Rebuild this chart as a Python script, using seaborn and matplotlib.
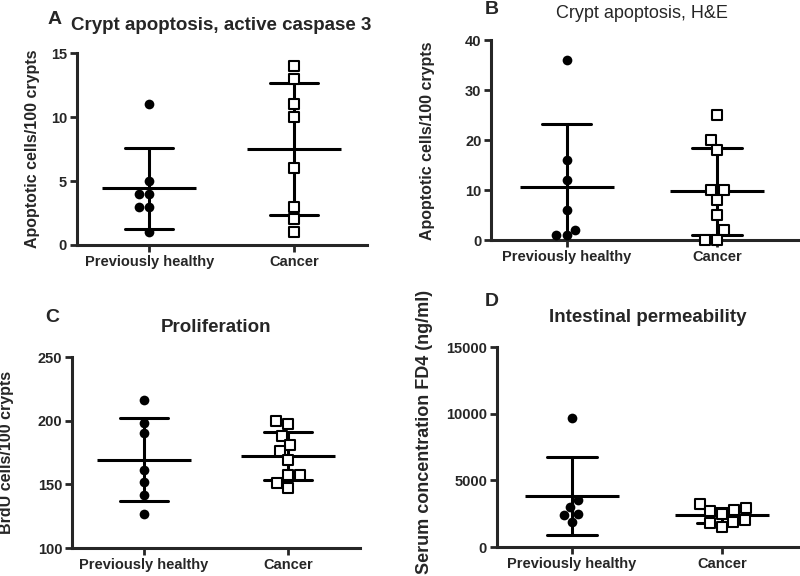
import numpy as np
import pandas as pd
import matplotlib
matplotlib.use('Agg')
import matplotlib.pyplot as plt
import seaborn as sns

# group names on the x axis
groups = ['Previously healthy', 'Cancer']

# A: crypt apoptosis, active caspase 3
casp_healthy = [11, 5, 4, 4, 3, 3, 1]
casp_cancer = [14, 13, 11, 10, 6, 3, 2, 1]

# B: crypt apoptosis, H&E
he_healthy = [36, 16, 12, 6, 2, 1, 1]
he_cancer = [25, 20, 18, 10, 10, 8, 5, 2, 0, 0]

# C: proliferation
brdu_healthy = [216, 198, 190, 161, 152, 142, 127]
brdu_cancer = [200, 197, 188, 181, 176, 169, 157, 157, 151, 147]

# D: intestinal permeability
fd4_healthy = [9700, 3500, 3000, 2500, 2400, 1900]
fd4_cancer = [3200, 2900, 2800, 2700, 2500, 2000, 1900, 1800, 1500]

sns.set_style('ticks')
plt.rcParams['font.family'] = ['Liberation Sans', 'DejaVu Sans']
plt.rcParams['font.weight'] = 'bold'


def make_df(healthy, cancer):
    return pd.DataFrame({
        'group': [groups[0]] * len(healthy) + [groups[1]] * len(cancer),
        'value': healthy + cancer,
    })


def draw_panel(ax, df, ylim, yticks, ylabel, label_xy, xlim_right=1.5, label_size=11.5):
    # mean +/- SD
    sns.pointplot(data=df, x='group', y='value', order=groups, errorbar='sd',
                  capsize=0.33, color='black', marker='_', markersize=68,
                  markeredgewidth=2.2, linestyle='none',
                  err_kws={'linewidth': 2.2}, ax=ax, zorder=2)
    # individual points
    sns.swarmplot(data=df[df['group'] == groups[0]], x='group', y='value',
                  order=groups, color='black', marker='o', size=7,
                  ax=ax, zorder=3)
    sns.swarmplot(data=df[df['group'] == groups[1]], x='group', y='value',
                  order=groups, color='white', edgecolor='black',
                  linewidth=1.5, marker='s', size=7, ax=ax, zorder=3)
    for coll in ax.collections:
        coll.set_clip_on(False)
    ax.set_xlim(-0.5, xlim_right)
    ax.set_ylim(*ylim)
    ax.set_yticks(yticks)
    ax.set_xlabel('')
    ax.set_ylabel(ylabel, fontsize=label_size, fontweight='bold')
    ax.yaxis.set_label_coords(*label_xy)
    for side in ['top', 'right']:
        ax.spines[side].set_visible(False)
    for side in ['left', 'bottom']:
        ax.spines[side].set_linewidth(2.2)
    ax.tick_params(width=2, length=5, labelsize=10.5, pad=2)
    for t in ax.get_xticklabels() + ax.get_yticklabels():
        t.set_fontweight('bold')


fig = plt.figure(figsize=(8, 5.76), dpi=100)

axA = fig.add_axes([0.096, 0.5747, 0.3625, 0.333])
draw_panel(axA, make_df(casp_healthy, casp_cancer), (0, 15), [0, 5, 10, 15],
           'Apoptotic cells/100 crypts', (-0.128, 0.5))

axB = fig.add_axes([0.614, 0.583, 0.386, 0.347])
draw_panel(axB, make_df(he_healthy, he_cancer), (0, 40), [0, 10, 20, 30, 40],
           'Apoptotic cells/100 crypts', (-0.181, 0.5), xlim_right=1.55)

axC = fig.add_axes([0.09, 0.0486, 0.36, 0.3316])
draw_panel(axC, make_df(brdu_healthy, brdu_cancer), (100, 250), [100, 150, 200, 250],
           'BrdU cells/100 crypts', (-0.2, 0.5))

axD = fig.add_axes([0.621, 0.0503, 0.379, 0.347])
draw_panel(axD, make_df(fd4_healthy, fd4_cancer), (0, 15000), [0, 5000, 10000, 15000],
           'Serum concentration FD4 (ng/ml)', (-0.211, 0.575), xlim_right=1.52,
           label_size=13)

# panel letters and titles (pixel positions -> figure fractions)
W, H = 800, 576
def ftext(x, y, s, size, weight='bold'):
    fig.text(x / W, 1 - y / H, s, fontsize=size, fontweight=weight,
             ha='center', va='center')

ftext(55, 20, 'A', 14)
ftext(221, 25, 'Crypt apoptosis, active caspase 3', 13.5)
ftext(492, 9, 'B', 14)
ftext(642, 14, 'Crypt apoptosis, H&E', 13, weight='normal')
ftext(52, 317, 'C', 14)
ftext(216, 328, 'Proliferation', 13.5)
ftext(492, 302, 'D', 14)
ftext(648, 318, 'Intestinal permeability', 13.5)

fig.savefig('out.png', dpi=100)
